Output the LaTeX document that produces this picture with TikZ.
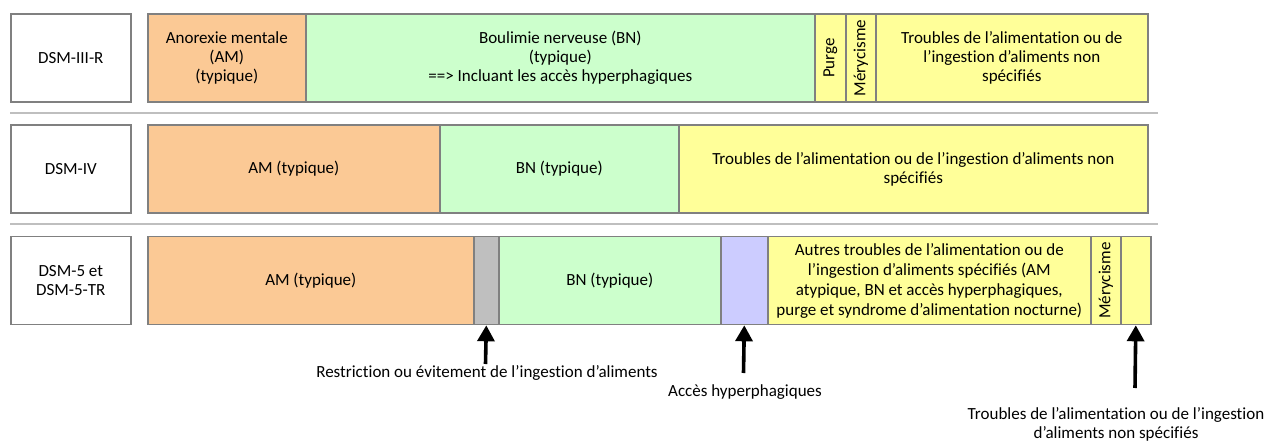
\documentclass[tikz,border=0pt]{standalone}
\usepackage{fontspec}
\setmainfont{Carlito}[Ligatures={NoCommon}]
\usetikzlibrary{arrows.meta}
\definecolor{segborder}{HTML}{808080}
\definecolor{sepgray}{HTML}{BFBFBF}
\definecolor{amcol}{HTML}{FBC995}
\definecolor{bncol}{HTML}{CCFFCC}
\definecolor{ylcol}{HTML}{FFFF99}
\definecolor{grcol}{HTML}{BFBFBF}
\definecolor{pucol}{HTML}{CCCCFF}
\begin{document}
\begin{tikzpicture}[x=1pt,y=-1pt,
  txt/.style={font=\fontsize{17}{19.2}\selectfont, align=center},
  seg/.style={txt, draw=segborder, line width=1.6pt, minimum height=88pt, inner sep=0pt, anchor=west},
  lbl/.style={seg, fill=white},
  sepline/.style={draw=sepgray, line width=2.5pt},
  arr/.style={line width=3.6pt, -{Triangle[width=17pt,length=16pt]}},
  note/.style={txt, inner sep=0pt}
]
\useasboundingbox (0,0) rectangle (1284,443);
% Row 1
\node[lbl, minimum width=120pt] (r1) at (10,58) {DSM-III-R};
\node[seg, fill=amcol, minimum width=158pt] (am1) at (147,58) {Anorexie mentale\\(AM)\\(typique)};
\node[seg, fill=bncol, minimum width=509pt] (bn1) at (305,58) {Boulimie nerveuse (BN)\\(typique)\\==> Incluant les accès hyperphagiques};
\node[seg, fill=ylcol, minimum width=31pt] (pu1) at (814,58) {};
\node[txt, rotate=90] (pu1t) at (pu1.center) {Purge};
\node[seg, fill=ylcol, minimum width=30pt] (me1) at (845,58) {};
\node[txt, rotate=90] (me1t) at (me1.center) {Mérycisme};
\node[seg, fill=ylcol, minimum width=272pt] (tr1) at (875,58) {Troubles de l’alimentation ou de\\l’ingestion d’aliments non\\spécifiés};
\coordinate (s1a) at (10,113);
\coordinate (s1b) at (1158,113);
\draw[sepline] (s1a) -- (s1b);
% Row 2
\node[lbl, minimum width=120pt] (r2) at (10,169) {DSM-IV};
\node[seg, fill=amcol, minimum width=292pt] (am2) at (147,169) {AM (typique)};
\node[seg, fill=bncol, minimum width=239pt] (bn2) at (439,169) {BN (typique)};
\node[seg, fill=ylcol, minimum width=469pt] (tr2) at (678,169) {Troubles de l’alimentation ou de l’ingestion d’aliments non\\spécifiés};
\coordinate (s2a) at (10,224);
\coordinate (s2b) at (1158,224);
\draw[sepline] (s2a) -- (s2b);
% Row 3
\node[lbl, minimum width=120pt] (r3) at (10,280.5) {DSM-5 et\\DSM-5-TR};
\node[seg, fill=amcol, minimum width=326pt] (am3) at (147,280.5) {AM (typique)};
\node[seg, fill=grcol, minimum width=25pt] (gr3) at (473,280.5) {};
\node[seg, fill=bncol, minimum width=222pt] (bn3) at (498,280.5) {BN (typique)};
\node[seg, fill=pucol, minimum width=47pt] (pu3) at (720,280.5) {};
\node[seg, fill=ylcol, minimum width=323pt, font=\fontsize{17}{20}\selectfont] (au3) at (767,280.5) {Autres troubles de l’alimentation ou de\\l’ingestion d’aliments spécifiés (AM\\atypique, BN et accès hyperphagiques,\\purge et syndrome d’alimentation nocturne)};
\node[seg, fill=ylcol, minimum width=30pt] (me3) at (1090,280.5) {};
\node[txt, rotate=90] (me3t) at (me3.center) {Mérycisme};
\node[seg, fill=ylcol, minimum width=30pt] (tr3) at (1120,280.5) {};
% Arrows and notes
\coordinate (a1) at (485.5,364);
\coordinate (a2) at (743.5,373);
\coordinate (a3) at (1135,388);
\draw[arr] (a1) -- (gr3.south);
\draw[arr] (a2) -- (pu3.south);
\draw[arr] (a3) -- (tr3.south);
\node[note] (n1) at (487,373) {Restriction ou évitement de l’ingestion d’aliments};
\node[note] (n2) at (745,392) {Accès hyperphagiques};
\node[note] (n3) at (1116,424) {Troubles de l’alimentation ou de l’ingestion\\d’aliments non spécifiés};
\end{tikzpicture}
\end{document}
